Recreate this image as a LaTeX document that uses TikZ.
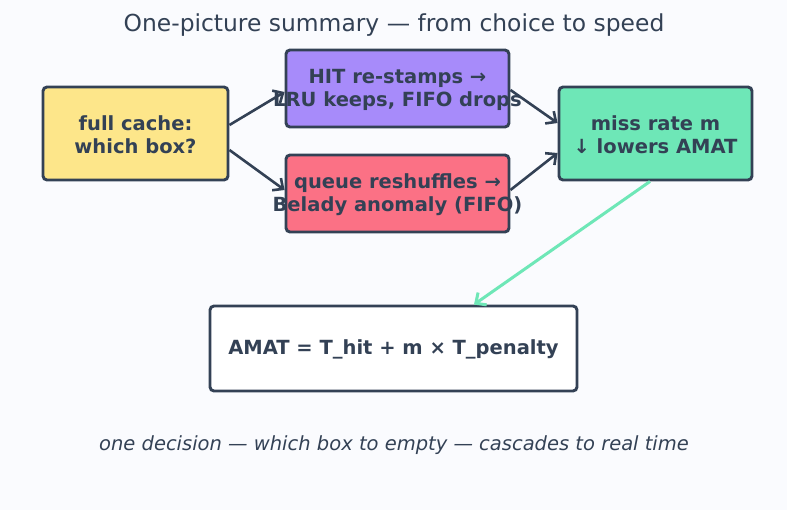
\documentclass[tikz,border=0pt]{standalone}
\usepackage{fontspec}
\setmainfont{DejaVu Sans}
\usetikzlibrary{arrows.meta}
\definecolor{ink}{HTML}{334155}
\definecolor{paper}{HTML}{FAFBFE}
\definecolor{sand}{HTML}{FDE68A}
\definecolor{lilac}{HTML}{A78BFA}
\definecolor{rose}{HTML}{FB7185}
\definecolor{mint}{HTML}{6EE7B7}

\begin{document}
\begin{tikzpicture}[x=1pt,y=-1pt,
  box/.style={draw=ink, line width=2.9pt, rounded corners=4pt},
  boxtext/.style={text=ink, align=center, font=\fontsize{19.5}{23}\selectfont\bfseries},
  flow/.style={ink, line width=2.6pt, -{Straight Barb[length=8pt,width=15pt]}}
]

  % page
  \fill[paper] (0,0) rectangle (787,510);
  \useasboundingbox (0,0) rectangle (787,510);

  \node[text=ink, font=\fontsize{23.4}{26}\selectfont] (title) at (394,25.5)
    {One-picture summary — from choice to speed};

  % boxes
  \node[box, fill=sand, minimum width=185pt, minimum height=93pt] (cache) at (135.5,133.5) {};
  \node[boxtext] at ([yshift=-1.5pt]cache.center) {full cache:\\which box?};
  \node[box, fill=lilac, minimum width=223pt, minimum height=77pt] (hit) at (397.5,88.5) {};
  \node[boxtext] at ([yshift=-1.5pt]hit.center) {HIT re-stamps →\\LRU keeps, FIFO drops};
  \node[box, fill=rose, minimum width=223pt, minimum height=77pt] (queue) at (397.5,193.5) {};
  \node[boxtext] at ([yshift=-1.5pt]queue.center) {queue reshuffles →\\Belady anomaly (FIFO)};
  \node[box, fill=mint, minimum width=193pt, minimum height=93pt] (miss) at (655.5,133.5) {};
  \node[boxtext] at ([yshift=-1.5pt]miss.center) {miss rate m\\↓ lowers AMAT};
  \node[box, fill=white, minimum width=367pt, minimum height=85pt] (amat) at (393.5,348.5) {};
  \node[boxtext] at ([yshift=-1pt]amat.center) {AMAT = T\_hit + m × T\_penalty};

  % arrows
  \draw[flow] ([yshift=8.5pt]cache.east) -- ([yshift=-3.5pt]hit.west);
  \draw[flow] ([yshift=-16.5pt]cache.east) -- ([yshift=3.5pt]queue.west);
  \draw[flow] ([yshift=-1.5pt]hit.east) -- ([yshift=10.5pt]miss.west);
  \draw[flow] ([yshift=3.5pt]queue.east) -- ([yshift=-19.5pt]miss.west);
  \draw[mint, line width=3pt, -{Straight Barb[length=8pt,width=15pt]}]
    ([xshift=-5.5pt]miss.south) -- ([xshift=80.5pt]amat.north);

  \node[text=ink, font=\fontsize{19.5}{22}\selectfont\itshape] (note) at (394,445)
    {one decision — which box to empty — cascades to real time};

\end{tikzpicture}
\end{document}
